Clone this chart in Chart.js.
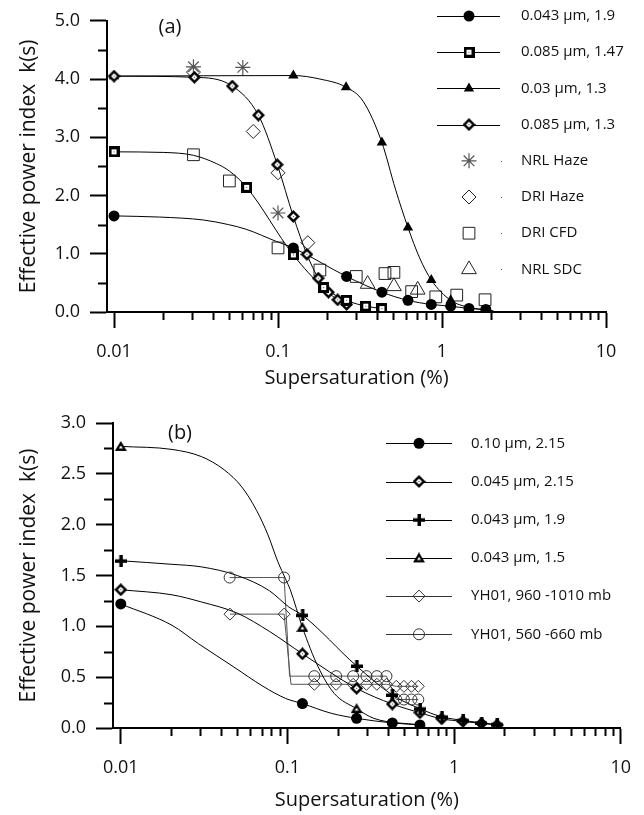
<!DOCTYPE html>
<html>
<head>
<meta charset="utf-8">
<script src="https://cdn.jsdelivr.net/npm/chart.js@4.4.1/dist/chart.umd.min.js"></script>
<style>
  html, body { margin: 0; padding: 0; background: #fff; }
  #wrap { position: relative; width: 644px; height: 815px; }
  #wrap canvas { position: absolute; left: 0; }
  #chart-a { top: 0; }
  #chart-b { top: 393px; }
</style>
</head>
<body>
<div id="wrap">
  <canvas id="chart-a" width="644" height="393"></canvas>
  <canvas id="chart-b" width="644" height="422"></canvas>
</div>
<script>
// log x axis shared by both panels
const X_MAJOR = [0.01, 0.1, 1, 10];
const X_LABELS = ["0.01", "0.1", "1", "10"];
const X_MINOR = [0.02, 0.03, 0.04, 0.05, 0.06, 0.07, 0.08, 0.09,
                 0.2, 0.3, 0.4, 0.5, 0.6, 0.7, 0.8, 0.9,
                 2, 3, 4, 5, 6, 7, 8, 9];

// ---------------- panel (a) ----------------
const A_Y_MAJOR = [0, 1, 2, 3, 4, 5];
const A_Y_MINOR = [0.5, 1.5, 2.5, 3.5, 4.5];
const A_LEGEND = ["0.043 µm, 1.9", "0.085 µm, 1.47", "0.03 µm, 1.3", "0.085 µm, 1.3",
                  "NRL Haze", "DRI Haze", "DRI CFD", "NRL SDC"];

// 0.043 um, 1.9
const a1X = [0.01, 0.124, 0.262, 0.43, 0.62, 0.86, 1.13, 1.46, 1.85];
const a1Y = [1.65, 1.10, 0.61, 0.34, 0.20, 0.13, 0.10, 0.06, 0.045];
const a1CurveX = [0.01, 0.019, 0.035, 0.05, 0.064, 0.098, 0.124, 0.262, 0.43, 0.62, 0.86, 1.13, 1.46, 1.85];
const a1CurveY = [1.65, 1.63, 1.58, 1.50, 1.42, 1.21, 1.10, 0.61, 0.34, 0.20, 0.13, 0.10, 0.06, 0.045];
// 0.085 um, 1.47
const a2X = [0.01, 0.0644, 0.124, 0.19, 0.262, 0.343, 0.43];
const a2Y = [2.75, 2.14, 0.98, 0.42, 0.20, 0.10, 0.06];
const a2CurveX = [0.01, 0.02, 0.0305, 0.042, 0.0505, 0.0644, 0.124, 0.19, 0.262, 0.343, 0.43];
const a2CurveY = [2.75, 2.74, 2.69, 2.55, 2.42, 2.14, 0.98, 0.42, 0.20, 0.10, 0.06];
// 0.03 um, 1.3
const a3X = [0.01, 0.124, 0.26, 0.43, 0.62, 0.86, 1.13];
const a3Y = [4.05, 4.06, 3.86, 2.91, 1.45, 0.55, 0.20];
const a3CurveX = [0.01, 0.124, 0.18, 0.26, 0.33, 0.43, 0.52, 0.62, 0.73, 0.86, 1.13, 1.46, 2.06];
const a3CurveY = [4.05, 4.06, 4.0, 3.86, 3.62, 2.91, 2.11, 1.45, 0.93, 0.55, 0.20, 0.08, 0.02];
// 0.085 um, 1.3
const a4X = [0.01, 0.0309, 0.0526, 0.0759, 0.099, 0.124, 0.15, 0.176, 0.203, 0.231, 0.262];
const a4Y = [4.05, 4.03, 3.88, 3.38, 2.53, 1.64, 0.99, 0.58, 0.34, 0.21, 0.13];
// measurements
const nrlHazeX = [0.0305, 0.061, 0.1];
const nrlHazeY = [4.21, 4.20, 1.70];
const driHazeX = [0.0305, 0.0706, 0.1, 0.152];
const driHazeY = [4.12, 3.10, 2.39, 1.19];
const driCfdX = [0.0305, 0.0505, 0.1, 0.18, 0.30, 0.449, 0.509, 0.653, 0.916, 1.23, 1.83];
const driCfdY = [2.70, 2.25, 1.10, 0.72, 0.61, 0.66, 0.68, 0.35, 0.26, 0.29, 0.21];
const nrlSdcX = [0.352, 0.509, 0.711];
const nrlSdcY = [0.48, 0.44, 0.38];

// ---------------- panel (b) ----------------
const B_Y_MAJOR = [0, 0.5, 1, 1.5, 2, 2.5, 3];
const B_Y_MINOR = [0.25, 0.75, 1.25, 1.75, 2.25, 2.75];
const B_LEGEND = ["0.10 µm, 2.15", "0.045 µm, 2.15", "0.043 µm, 1.9", "0.043 µm, 1.5",
                  "YH01, 960 -1010 mb", "YH01, 560 -660 mb"];

// 0.10 um, 2.15
const b1X = [0.01, 0.123, 0.26, 0.426, 0.624];
const b1Y = [1.22, 0.24, 0.095, 0.05, 0.03];
const b1CurveX = [0.01, 0.0203, 0.0292, 0.0477, 0.0714, 0.0978, 0.123, 0.183, 0.26, 0.426, 0.624];
const b1CurveY = [1.22, 1.01, 0.83, 0.60, 0.41, 0.29, 0.24, 0.145, 0.095, 0.05, 0.03];
// 0.045 um, 2.15
const b2X = [0.01, 0.123, 0.26, 0.426, 0.624, 0.843, 1.13, 1.46, 1.81];
const b2Y = [1.36, 0.73, 0.39, 0.236, 0.15, 0.09, 0.065, 0.045, 0.03];
const b2CurveX = [0.01, 0.0203, 0.0304, 0.05, 0.078, 0.123, 0.26, 0.426, 0.624, 0.843, 1.13, 1.46, 1.81];
const b2CurveY = [1.36, 1.31, 1.24, 1.13, 0.95, 0.73, 0.39, 0.236, 0.15, 0.09, 0.065, 0.045, 0.03];
// 0.043 um, 1.9
const b3X = [0.01, 0.123, 0.26, 0.426, 0.624, 0.843, 1.13, 1.46, 1.81];
const b3Y = [1.645, 1.11, 0.61, 0.325, 0.19, 0.11, 0.075, 0.05, 0.035];
const b3CurveX = [0.01, 0.0203, 0.0304, 0.05, 0.078, 0.102, 0.123, 0.26, 0.426, 0.624, 0.843, 1.13, 1.46, 1.81];
const b3CurveY = [1.645, 1.61, 1.585, 1.50, 1.35, 1.19, 1.11, 0.61, 0.325, 0.19, 0.11, 0.075, 0.05, 0.035];
// 0.043 um, 1.5
const b4X = [0.01, 0.123, 0.26];
const b4Y = [2.77, 0.99, 0.19];
const b4CurveX = [0.01, 0.0203, 0.0304, 0.0417, 0.0533, 0.0653, 0.0764, 0.0874, 0.0978, 0.104, 0.123, 0.153, 0.191, 0.26, 0.33, 0.624];
const b4CurveY = [2.77, 2.74, 2.67, 2.54, 2.37, 2.14, 1.90, 1.64, 1.46, 1.36, 0.99, 0.60, 0.34, 0.19, 0.095, 0.03];
// YH01 960-1010 mb
const yh960X = [0.0452, 0.0955, 0.145, 0.196, 0.248, 0.298, 0.344, 0.393, 0.45, 0.50, 0.555, 0.61];
const yh960Y = [1.12, 1.12, 0.43, 0.43, 0.43, 0.43, 0.43, 0.43, 0.41, 0.41, 0.41, 0.41];
const yh960LineX = [0.0452, 0.0955, 0.105, 0.145, 0.196, 0.248, 0.298, 0.344, 0.393, 0.45, 0.50, 0.555, 0.61];
const yh960LineY = [1.12, 1.12, 0.43, 0.43, 0.43, 0.43, 0.43, 0.43, 0.43, 0.41, 0.41, 0.41, 0.41];
// YH01 560-660 mb
const yh560X = [0.045, 0.0955, 0.145, 0.196, 0.248, 0.298, 0.344, 0.393, 0.45, 0.50, 0.555, 0.61];
const yh560Y = [1.48, 1.48, 0.51, 0.51, 0.51, 0.51, 0.51, 0.51, 0.28, 0.28, 0.28, 0.28];
const yh560LineX = [0.045, 0.0955, 0.103, 0.145, 0.196, 0.248, 0.298, 0.344, 0.393, 0.45, 0.50, 0.555, 0.61];
const yh560LineY = [1.48, 1.48, 0.51, 0.51, 0.51, 0.51, 0.51, 0.51, 0.51, 0.28, 0.28, 0.28, 0.28];

const FONT = "'Open Sans', 'Noto Sans', sans-serif";
const INK = "#111";
const CLEAR = "rgba(0,0,0,0)";

// small bitmap markers for the dotted / bold symbols
function makeMarker(w, h, draw) {
  const c = document.createElement("canvas");
  c.width = w;
  c.height = h;
  draw(c.getContext("2d"), w, h);
  return c;
}
function diamondPath(g, cx, cy, r) {
  g.beginPath();
  g.moveTo(cx, cy - r); g.lineTo(cx + r, cy); g.lineTo(cx, cy + r); g.lineTo(cx - r, cy);
  g.closePath();
}
const SQUARE_DOT = makeMarker(11, 11, (g) => {
  g.fillStyle = "#000"; g.fillRect(0, 0, 11, 11);
  g.fillStyle = "#fff"; g.fillRect(3, 3, 5, 5);
  g.fillStyle = "#555"; g.fillRect(5, 5, 1, 1);
});
const DIAMOND_DOT = makeMarker(13, 13, (g) => {
  g.fillStyle = "#000"; diamondPath(g, 6.5, 6.5, 6.5); g.fill();
  g.fillStyle = "#fff"; diamondPath(g, 6.5, 6.5, 3); g.fill();
  g.fillStyle = "#444"; g.fillRect(6, 6, 1, 1);
});
const TRIANGLE_DOT = makeMarker(12, 11, (g) => {
  g.fillStyle = "#000";
  g.beginPath(); g.moveTo(6, 0); g.lineTo(12, 10); g.lineTo(0, 10); g.closePath(); g.fill();
  g.fillStyle = "#fff";
  g.beginPath(); g.moveTo(6, 4.5); g.lineTo(8, 7.5); g.lineTo(4, 7.5); g.closePath(); g.fill();
});
const PLUS = makeMarker(12, 12, (g) => {
  g.fillStyle = "#000"; g.fillRect(4.5, 0, 3.5, 12); g.fillRect(0, 4.5, 12, 3.5);
});

const MARK = {
  dot:     { style: "circle", radius: 5.5, fill: "#000", stroke: "#000", width: 0 },
  sqDot:   { style: SQUARE_DOT, radius: 6, fill: "#000", stroke: "#000", width: 0 },
  tri:     { style: "triangle", radius: 6, fill: "#000", stroke: "#000", width: 0 },
  diaDot:  { style: DIAMOND_DOT, radius: 6.5, fill: "#000", stroke: "#000", width: 0 },
  star:    { style: "star", radius: 7.5, fill: CLEAR, stroke: "#555", width: 1.2 },
  openDia: { style: "rectRot", radius: 7, fill: CLEAR, stroke: "#222", width: 1 },
  openSq:  { style: "rect", radius: 8.3, fill: CLEAR, stroke: "#222", width: 1 },
  openTri: { style: "triangle", radius: 8.5, fill: CLEAR, stroke: "#222", width: 1 },
  plus:    { style: PLUS, radius: 6, fill: "#000", stroke: "#000", width: 0 },
  triDot:  { style: TRIANGLE_DOT, radius: 6, fill: "#000", stroke: "#000", width: 0 },
  yhDia:   { style: "rectRot", radius: 6, fill: CLEAR, stroke: "#333", width: 1 },
  yhCirc:  { style: "circle", radius: 5.5, fill: CLEAR, stroke: "#333", width: 1 },
};

function pts(xs, ys) {
  return xs.map((x, i) => ({ x, y: ys[i] }));
}
function curve(xs, ys, color, smooth) {
  return {
    data: pts(xs, ys), showLine: true, borderColor: color, borderWidth: 1,
    pointRadius: 0, pointHoverRadius: 0, tension: 0,
    cubicInterpolationMode: smooth ? "monotone" : "default", order: 2,
  };
}
function marks(xs, ys, m) {
  return {
    data: pts(xs, ys), showLine: false, pointStyle: m.style, pointRadius: m.radius,
    pointHoverRadius: m.radius, pointBackgroundColor: m.fill, pointBorderColor: m.stroke,
    pointBorderWidth: m.width, order: 1,
  };
}

// shorter minor tick marks, drawn on the library's scales
const minorTickPlugin = {
  id: "minorTicks",
  afterDraw(chart, args, o) {
    const { ctx, chartArea, scales } = chart;
    ctx.save();
    ctx.strokeStyle = "#000";
    ctx.lineWidth = 2;
    ctx.beginPath();
    for (const v of o.x) {
      const px = Math.round(scales.x.getPixelForValue(v)) + 0.5;
      ctx.moveTo(px, chartArea.bottom);
      ctx.lineTo(px, chartArea.bottom + o.xLen);
    }
    for (const v of o.y) {
      const py = Math.round(scales.y.getPixelForValue(v)) + 0.5;
      ctx.moveTo(chartArea.left, py);
      ctx.lineTo(chartArea.left - o.yLen, py);
    }
    ctx.stroke();
    ctx.restore();
  },
};

// in-plot key and the panel tag
const keyPlugin = {
  id: "panelKey",
  afterDraw(chart, args, o) {
    const { ctx } = chart;
    ctx.save();
    ctx.font = o.font;
    ctx.textBaseline = "middle";
    o.items.forEach((it, i) => {
      const y = o.top + i * o.step;
      if (it.line) {
        ctx.strokeStyle = it.lineColor;
        ctx.lineWidth = 1;
        ctx.beginPath();
        ctx.moveTo(o.lineFrom, Math.round(y) + 0.5);
        ctx.lineTo(o.lineTo, Math.round(y) + 0.5);
        ctx.stroke();
      } else {
        ctx.fillStyle = "#666";
        ctx.fillRect(o.dotX, Math.round(y), 1, 1);
      }
      const m = it.marker;
      ctx.fillStyle = m.fill;
      ctx.strokeStyle = m.stroke;
      ctx.lineWidth = m.width;
      Chart.helpers.drawPoint(ctx, { pointStyle: m.style, radius: m.radius, rotation: 0, borderWidth: m.width }, o.markX, y);
      ctx.fillStyle = INK;
      ctx.textAlign = "left";
      ctx.fillText(it.text, o.textX, y);
    });
    ctx.font = o.tagFont;
    ctx.textAlign = "center";
    ctx.fillStyle = INK;
    ctx.fillText(o.tag, o.tagX, o.tagY);
    ctx.restore();
  },
};

function buildPanel(canvasId, p) {
  return new Chart(document.getElementById(canvasId), {
    type: "scatter",
    data: { datasets: p.datasets },
    options: {
      responsive: false,
      animation: false,
      devicePixelRatio: 1,
      events: [],
      layout: { padding: p.padding, autoPadding: false },
      plugins: {
        legend: { display: false },
        tooltip: { enabled: false },
        minorTicks: { x: X_MINOR, y: p.yMinor, xLen: 8, yLen: 9 },
        panelKey: p.key,
      },
      scales: {
        x: {
          type: "logarithmic",
          min: p.xMin,
          max: 10,
          afterBuildTicks: (s) => { s.ticks = X_MAJOR.map((v) => ({ value: v })); },
          afterFit: (s) => { s.height = p.xAxisHeight; },
          ticks: {
            autoSkip: false, maxRotation: 0, padding: 13, color: INK,
            font: { family: FONT, size: 18 },
            callback: (v) => { const i = X_MAJOR.findIndex((m) => Math.abs(m - v) < m * 1e-6); return i < 0 ? "" : X_LABELS[i]; },
          },
          grid: { drawOnChartArea: false, tickLength: 16, tickWidth: 2, tickColor: "#000" },
          border: { display: true, color: "#000", width: 2 },
          title: { display: true, text: "Supersaturation (%)", color: INK, font: { family: FONT, size: 20 }, padding: { top: 0, bottom: 3 } },
        },
        y: {
          type: "linear",
          min: 0,
          max: p.yMax,
          afterBuildTicks: (s) => { s.ticks = p.yMajor.map((v) => ({ value: v })); },
          afterFit: (s) => { s.width = p.yAxisWidth; },
          ticks: {
            padding: 10, color: INK, font: { family: FONT, size: 18 },
            callback: (v) => Number(v).toFixed(1),
          },
          grid: { drawOnChartArea: false, tickLength: 17, tickWidth: 2, tickColor: "#000" },
          border: { display: true, color: "#000", width: 2 },
          title: { display: true, text: "Effective power index  k(s)", color: INK, font: { family: FONT, size: 21 }, padding: { top: 16, bottom: 0 } },
        },
      },
    },
    plugins: [minorTickPlugin, keyPlugin],
  });
}

buildPanel("chart-a", {
  xMin: 0.00906, yMax: 5, yMajor: A_Y_MAJOR, yMinor: A_Y_MINOR,
  padding: { left: 0, right: 38, top: 15, bottom: 0 },
  yAxisWidth: 107, xAxisHeight: 81,
  datasets: [
    marks(a1X, a1Y, MARK.dot),
    marks(a2X, a2Y, MARK.sqDot),
    marks(a4X, a4Y, MARK.diaDot),
    marks(a3X, a3Y, MARK.tri),
    marks(nrlHazeX, nrlHazeY, MARK.star),
    marks(driHazeX, driHazeY, MARK.openDia),
    marks(driCfdX, driCfdY, MARK.openSq),
    marks(nrlSdcX, nrlSdcY, MARK.openTri),
    curve(a1CurveX, a1CurveY, "#000", true),
    curve(a2CurveX, a2CurveY, "#000", true),
    curve(a3CurveX, a3CurveY, "#000", true),
    curve(a4X, a4Y, "#000", true),
  ],
  key: {
    font: `15px ${FONT}`, top: 16, step: 36.2,
    lineFrom: 437, lineTo: 500, markX: 469, dotX: 501, textX: 521,
    tag: "(a)", tagX: 170, tagY: 27, tagFont: `20px ${FONT}`,
    items: [
      { text: A_LEGEND[0], marker: MARK.dot, line: true, lineColor: "#000" },
      { text: A_LEGEND[1], marker: MARK.sqDot, line: true, lineColor: "#000" },
      { text: A_LEGEND[2], marker: MARK.tri, line: true, lineColor: "#000" },
      { text: A_LEGEND[3], marker: MARK.diaDot, line: true, lineColor: "#000" },
      { text: A_LEGEND[4], marker: MARK.star, line: false },
      { text: A_LEGEND[5], marker: MARK.openDia, line: false },
      { text: A_LEGEND[6], marker: MARK.openSq, line: false },
      { text: A_LEGEND[7], marker: MARK.openTri, line: false },
    ],
  },
});

buildPanel("chart-b", {
  xMin: 0.00898, yMax: 3, yMajor: B_Y_MAJOR, yMinor: B_Y_MINOR,
  padding: { left: 0, right: 10, top: 30, bottom: 0 },
  yAxisWidth: 113, xAxisHeight: 87,
  datasets: [
    marks(b1X, b1Y, MARK.dot),
    marks(b3X, b3Y, MARK.plus),
    marks(b2X, b2Y, MARK.diaDot),
    marks(b4X, b4Y, MARK.triDot),
    marks(yh960X, yh960Y, MARK.yhDia),
    marks(yh560X, yh560Y, MARK.yhCirc),
    curve(b1CurveX, b1CurveY, "#000", true),
    curve(b2CurveX, b2CurveY, "#000", true),
    curve(b3CurveX, b3CurveY, "#000", true),
    curve(b4CurveX, b4CurveY, "#000", true),
    curve(yh960LineX, yh960LineY, "#555", false),
    curve(yh560LineX, yh560LineY, "#555", false),
  ],
  key: {
    font: `15px ${FONT}`, top: 50.3, step: 38.2,
    lineFrom: 386, lineTo: 452, markX: 419, dotX: 452, textX: 471,
    tag: "(b)", tagX: 180, tagY: 40, tagFont: `20px ${FONT}`,
    items: [
      { text: B_LEGEND[0], marker: MARK.dot, line: true, lineColor: "#000" },
      { text: B_LEGEND[1], marker: MARK.diaDot, line: true, lineColor: "#000" },
      { text: B_LEGEND[2], marker: MARK.plus, line: true, lineColor: "#000" },
      { text: B_LEGEND[3], marker: MARK.triDot, line: true, lineColor: "#000" },
      { text: B_LEGEND[4], marker: MARK.yhDia, line: true, lineColor: "#333" },
      { text: B_LEGEND[5], marker: MARK.yhCirc, line: true, lineColor: "#333" },
    ],
  },
});
</script>
</body>
</html>
